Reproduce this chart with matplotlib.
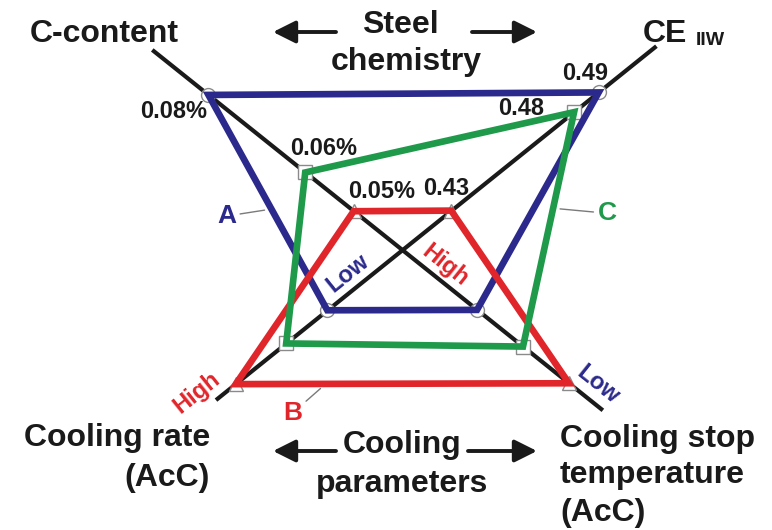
import numpy as np
from matplotlib import pyplot as plt
from matplotlib.patches import Polygon

plt.rcParams['font.family'] = ['Liberation Sans', 'DejaVu Sans']
plt.rcParams['font.weight'] = 'bold'

# 三种钢 A / B / C
steels = ['A', 'B', 'C']
colors = ['#2b2a8c', '#e0262b', '#1f9a4b']
markers = ['o', '^', 's']

c_content = [0.08, 0.05, 0.06]      # %
ce_iiw = [0.49, 0.43, 0.48]
cool_rate = [0.40, 0.89, 0.62]      # 相对值, 0 = low, 1 = high
stop_temp = [0.60, 0.11, 0.355]     # 相对值, 1 = high (靠近中心)

# 每根轴: 角度(度), 数值 -> 半径
axis_c = (141.3, lambda v: 6200 * (v - 0.04))
axis_ce = (38.7, lambda v: 3150 * (v - 0.41))
axis_stop = (321.4, lambda v: 240 * (1 - v))
axis_rate = (218.9, lambda v: 240 * v)

ink = '#1a1a1a'


def polar(angle, r):
	a = np.deg2rad(angle)
	return np.array([r * np.cos(a), r * np.sin(a)])


def vertex(ax_def, v):
	return polar(ax_def[0], ax_def[1](v))


fig = plt.figure(figsize=(7.72, 5.30), dpi=100)
ax = fig.add_axes([0, 0, 1, 1])
ax.set_xlim(-402, 370)
ax.set_ylim(-280, 250)
ax.axis('off')

# 两根黑色轴线
for a1, r1, a2, r2 in ((axis_c[0], 320, axis_stop[0], 257), (axis_ce[0], 326, axis_rate[0], 239)):
	p1, p2 = polar(a1, r1), polar(a2, r2)
	ax.plot([p1[0], p2[0]], [p1[1], p2[1]], color=ink, lw=3, zorder=1, solid_capstyle='butt')

verts = []
for i, name in enumerate(steels):
	pts = np.array([vertex(axis_c, c_content[i]), vertex(axis_ce, ce_iiw[i]),
					vertex(axis_stop, stop_temp[i]), vertex(axis_rate, cool_rate[i])])
	verts.append(pts)
	ax.add_patch(Polygon(pts, closed=True, fill=False, edgecolor=colors[i], lw=4.8,
						 joinstyle='miter', zorder=3))
	ax.plot(pts[:, 0], pts[:, 1], ls='none', marker=markers[i], ms=10, mfc='white',
			mec='#8a8a8a', mew=1, zorder=2)

# 数值标注
c_off = [(-35, -17), (28, 20), (18, 24)]
ce_off = [(-14, 19), (-5, 22), (-53, 4)]
for i in range(3):
	ax.annotate('%.2f%%' % c_content[i], verts[i][0], xytext=c_off[i], textcoords='offset pixels',
				ha='center', va='center', fontsize=17, color=ink, zorder=4)
	ax.annotate('%.2f' % ce_iiw[i], verts[i][1], xytext=ce_off[i], textcoords='offset pixels',
				ha='center', va='center', fontsize=17, color=ink, zorder=4)

# A / B / C 引线
lead = [(0, 3, 0.53, (-45, -7)), (3, 2, 0.27, (-33, -29)), (1, 2, 0.41, (54, -5))]
for i, (j, k, t, off) in enumerate(lead):
	p = verts[i][j] + t * (verts[i][k] - verts[i][j])
	ax.annotate(steels[i], p, xytext=off, textcoords='offset pixels', ha='center', va='center',
				fontsize=19, color=colors[i], zorder=4,
				arrowprops=dict(arrowstyle='-', color='#7a7a7a', lw=1, shrinkA=1, shrinkB=5))

# Low / High
ax.text(-54, -23, 'Low', rotation=38.7, ha='center', va='center', fontsize=17, color=colors[0])
ax.text(-205, -143, 'High', rotation=38.7, ha='center', va='center', fontsize=17, color=colors[1])
ax.text(43, -15, 'High', rotation=-38.6, ha='center', va='center', fontsize=17, color=colors[1])
ax.text(196, -135, 'Low', rotation=-38.6, ha='center', va='center', fontsize=17, color=colors[0])

# 轴名称
fs = 23
ax.text(-372, 208, 'C-content', fontsize=fs, color=ink, va='baseline')
ax.text(241, 208, 'CE', fontsize=fs, color=ink, va='baseline')
ax.text(294, 205, 'IIW', fontsize=14, color=ink, va='baseline')
ax.text(-192, -196, 'Cooling rate', fontsize=fs, color=ink, va='baseline', ha='right')
ax.text(-192, -236, '(AcC)', fontsize=fs, color=ink, va='baseline', ha='right')
ax.text(158, -197, 'Cooling stop', fontsize=fs, color=ink, va='baseline')
ax.text(158, -233, 'temperature', fontsize=fs, color=ink, va='baseline')
ax.text(158, -271, '(AcC)', fontsize=fs, color=ink, va='baseline')

ax.text(-2, 217, 'Steel', fontsize=fs, color=ink, va='baseline', ha='center')
ax.text(4, 180, 'chemistry', fontsize=fs, color=ink, va='baseline', ha='center')
ax.text(0, -203, 'Cooling', fontsize=fs, color=ink, va='baseline', ha='center')
ax.text(0, -242, 'parameters', fontsize=fs, color=ink, va='baseline', ha='center')

arrow = dict(arrowstyle='-|>', color=ink, lw=2.8, mutation_scale=34, shrinkA=0, shrinkB=0)
for tail, tip in (((-66, 218), (-129, 218)), ((70, 218), (135, 218)),
				  ((-66, -201), (-129, -201)), ((66, -201), (135, -201))):
	ax.annotate('', xy=tip, xytext=tail, arrowprops=arrow)

fig.savefig('out.png', dpi=100, facecolor='white')
